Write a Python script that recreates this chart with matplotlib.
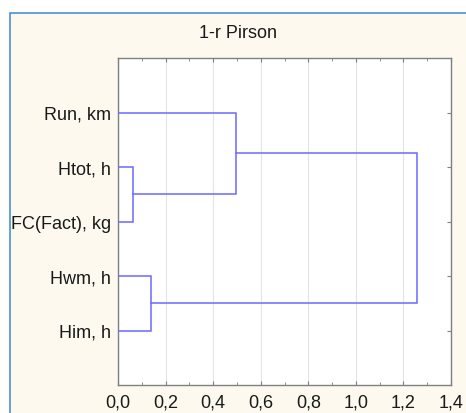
import matplotlib
matplotlib.use("Agg")
import matplotlib.pyplot as plt
from matplotlib.patches import Rectangle
from matplotlib.ticker import MultipleLocator, FuncFormatter

plt.rcParams['font.family'] = ['Liberation Sans', 'DejaVu Sans']

TITLE = "1-r Pirson"
labels = ["Run, km", "Htot, h", "FC(Fact), kg", "Hwm, h", "Him, h"]
# linkage rows: (node a, node b, linkage distance); new nodes numbered from len(labels)
merge_a = [1, 3, 0, 6]
merge_b = [2, 4, 5, 7]
merge_h = [0.062, 0.139, 0.497, 1.255]
xticks = [0.0, 0.2, 0.4, 0.6, 0.8, 1.0, 1.2, 1.4]

LINE_C = "#6a6aff"

fig = plt.figure(figsize=(4.66, 4.14), dpi=100)
fig.patch.set_facecolor("white")
# statistica-style cream panel with blue border
fig.patches.append(Rectangle((10 / 466, -0.1), 1.2, 1 - 14 / 414 + 0.1,
                             transform=fig.transFigure, facecolor="#fdf9ef",
                             edgecolor="#4a8fd8", linewidth=1.2, zorder=-10))

ax = fig.add_axes([118 / 466, 28 / 414, 333 / 466, 327 / 414])
ax.set_facecolor("white")

# node positions (y) and heights (x)
ypos = {i: i + 1 for i in range(len(labels))}
xpos = {i: 0.0 for i in range(len(labels))}
for k, (a, b, h) in enumerate(zip(merge_a, merge_b, merge_h)):
    ya, yb = ypos[a], ypos[b]
    ax.plot([xpos[a], h, h, xpos[b]], [ya, ya, yb, yb], color=LINE_C, lw=1.1,
            solid_joinstyle="miter", zorder=3)
    node = len(labels) + k
    ypos[node] = (ya + yb) / 2
    xpos[node] = h

ax.set_xlim(0, 1.4)
ax.set_ylim(len(labels) + 1, 0)
ax.set_xticks(xticks)
ax.xaxis.set_minor_locator(MultipleLocator(0.1))
ax.xaxis.set_major_formatter(FuncFormatter(lambda v, p: f"{v:.1f}".replace(".", ",")))
ax.set_yticks(range(1, len(labels) + 1))
ax.set_yticklabels(labels)

ax.tick_params(axis="x", which="both", direction="in", top=True, length=3,
               color="#808080", labelsize=13, pad=6, labelcolor="#1a1a1a")
ax.tick_params(axis="x", which="minor", length=2)
ax.tick_params(axis="y", direction="in", right=True, left=False, length=3,
               color="#808080", labelsize=13, pad=5, labelcolor="#1a1a1a")
ax.grid(axis="x", which="major", color="#e4e4e4", lw=0.8, zorder=0)
for s in ax.spines.values():
    s.set_color("#808080")
    s.set_linewidth(1.0)

fig.text(238 / 466, 1 - 33 / 414, TITLE, ha="center", va="center",
         fontsize=13, color="#1a1a1a")

fig.savefig("out.png", dpi=100, facecolor=fig.get_facecolor())
